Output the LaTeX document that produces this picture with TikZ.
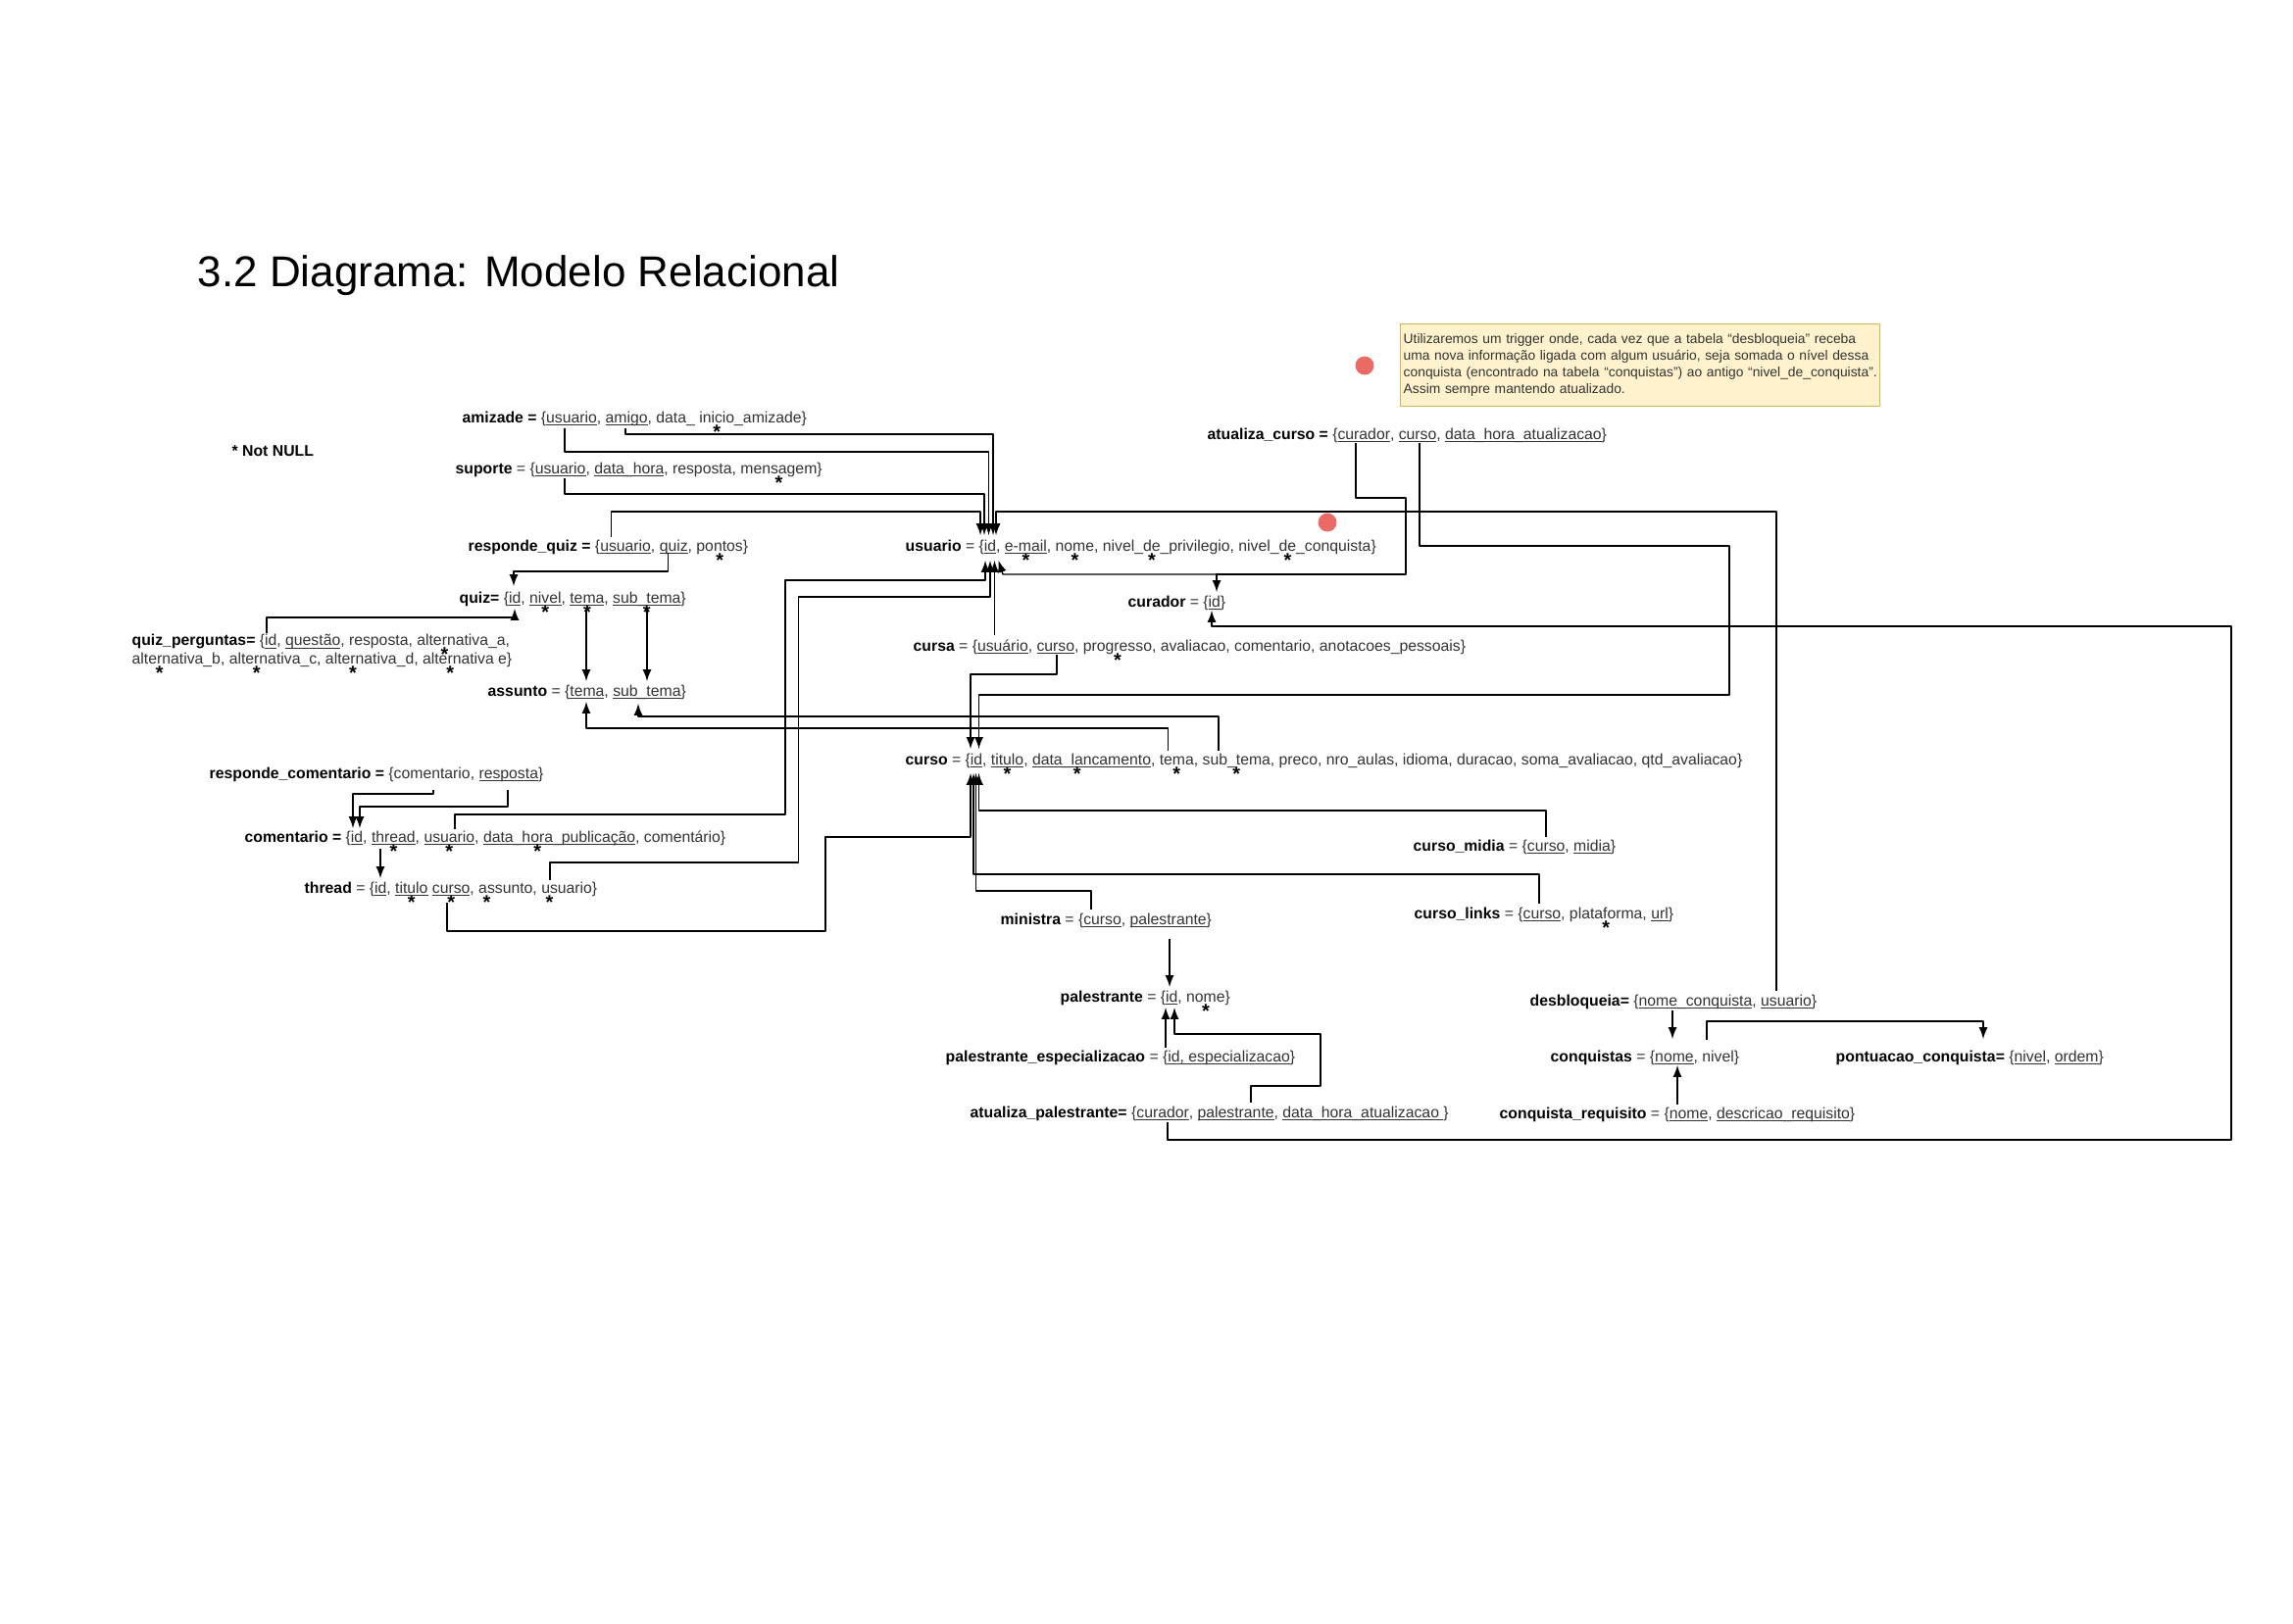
\documentclass[tikz,border=0pt]{standalone}
\usepackage{fontspec}
\setmainfont{Liberation Sans}
\definecolor{campo}{HTML}{333333}
\definecolor{notafundo}{HTML}{FFF2CC}
\definecolor{notaborda}{HTML}{D6B656}
\definecolor{vermelho}{HTML}{EA6B66}
\newcommand\nome[1]{{\bfseries\color{black}#1}}
\newcommand\pk[1]{\setbox0\hbox{#1}\rlap{\rule[-1.2pt]{\wd0}{0.35pt}}\box0\relax}
\newcommand\nn[1]{\setbox0\hbox{#1}\rlap{\hbox to\wd0{\hss\raisebox{-5.8pt}[0pt][0pt]{\fontsize{7.2}{8}\selectfont\bfseries\color{black}*}\hss}}\box0\relax}
\tikzset{
  tabela/.style={anchor=base west,inner sep=0pt,text=campo,font=\fontsize{5.7}{6.8}\selectfont},
  nota/.style={anchor=north west,fill=notafundo,draw=notaborda,line width=0.4pt,inner xsep=0.4mm,inner ysep=1.3mm,text width=61.3mm,align=left,text=campo,font=\fontsize{5}{6.1}\selectfont},
  ponto/.style={circle,fill=vermelho,draw=none,minimum size=2.4mm,inner sep=0pt},
}
\begin{document}
\begin{tikzpicture}[x=0.127mm,y=-0.127mm,>=latex,line join=bevel,line width=0.5pt]
\useasboundingbox (0,0) rectangle (2339,1656);
%%
\node (node_titulo) at (201,292) [anchor=base west,inner sep=0pt,font=\fontsize{15.9}{19}\selectfont] {3.2 Diagrama: Modelo Relacional};
  \node (node_notnull) at (236,465) [tabela,text=black] {\bfseries * Not NULL};
  \node (node_nota) at (1428,330) [nota] {\mbox{Utilizaremos um trigger onde, cada vez que a tabela “desbloqueia” receba}\\
    \mbox{uma nova informação ligada com algum usuário, seja somada o nível dessa}\\
    \mbox{conquista (encontrado na tabela “conquistas”) ao antigo “nivel\_de\_conquista”.}\\
    \mbox{Assim sempre mantendo atualizado.}};
  \node (node_ponto_1) at (1392,373) [ponto] {};
  \node (node_ponto_2) at (1354,533) [ponto] {};
%
  \node (node_amizade) at (471,431) [tabela] {\nome{amizade =} \{\pk{usuario}, \pk{amigo}, data\_ \nn{inicio}\_amizade\}};
  \node (node_suporte) at (464,483) [tabela] {\nome{suporte} = \{\pk{usuario}, \pk{data\_hora}, resposta, \nn{mensagem}\}};
  \node (node_responde_quiz) at (477,562) [tabela] {\nome{responde\_quiz =} \{\pk{usuario}, \pk{quiz}, \nn{pontos}\}};
  \node (node_quiz) at (468,615) [tabela] {\nome{quiz=} \{\pk{id}, \nn{\pk{nivel}}, \nn{\pk{tema}}, \nn{\pk{sub\_tema}}\}};
  \node (node_quiz_perguntas) at (134,677) [tabela,align=left] {\nome{quiz\_perguntas=} \{\pk{id}, \pk{questão}, resposta, \nn{alternati}va\_a,\\\nn{alternati}va\_b, \nn{alternati}va\_c, \nn{alternati}va\_d, \nn{alternati}va e\}};
  \node (node_assunto) at (497,710) [tabela] {\nome{assunto} = \{\pk{tema}, \pk{sub\_tema}\}};
  \node (node_responde_comentario) at (213,794) [tabela] {\nome{responde\_comentario =} \{comentario, \pk{resposta}\}};
  \node (node_comentario) at (249,859) [tabela] {\nome{comentario =} \{\pk{id}, \nn{\pk{thread}}, \nn{\pk{usuario}}, \pk{data\_\nn{hora}\_publicação}, comentário\}};
  \node (node_thread) at (310,911) [tabela] {\nome{thread} = \{\pk{id}, \nn{\pk{titulo}} \nn{\pk{curso}}, \nn{as}sunto, \nn{us}uario\}};
  \node (node_usuario) at (923,562) [tabela] {\nome{usuario} = \{\pk{id}, \nn{\pk{e-mail}}, \nn{nome}, nivel\_\nn{de}\_privilegio, nivel\_\nn{de}\_conquista\}};
  \node (node_curador) at (1150,619) [tabela] {\nome{curador} = \{\pk{id}\}};
  \node (node_cursa) at (931,664) [tabela] {\nome{cursa} = \{\pk{usuário}, \pk{curso}, \nn{progresso}, avaliacao, comentario, anotacoes\_pessoais\}};
  \node (node_atualiza_curso) at (1231,448) [tabela] {\nome{atualiza\_curso =} \{\pk{curador}, \pk{curso}, \pk{data\_hora\_atualizacao}\}};
  \node (node_curso) at (923,780) [tabela] {\nome{curso} = \{\pk{id}, \nn{\pk{titulo}}, \pk{data\_\nn{la}ncamento}, \nn{tema}, \nn{sub\_tema}, preco, nro\_aulas, idioma, duracao, soma\_avaliacao, qtd\_avaliacao\}};
  \node (node_curso_midia) at (1441,868) [tabela] {\nome{curso\_midia} = \{\pk{curso}, \pk{midia}\}};
  \node (node_curso_links) at (1442,937) [tabela] {\nome{curso\_links} = \{\pk{curso}, \nn{plataforma}, \pk{url}\}};
  \node (node_ministra) at (1020,943) [tabela] {\nome{ministra} = \{\pk{curso}, \pk{palestrante}\}};
  \node (node_palestrante) at (1081,1022) [tabela] {\nome{palestrante} = \{\pk{id}, \nn{nome}\}};
  \node (node_palestrante_especializacao) at (964,1083) [tabela] {\nome{palestrante\_especializacao} = \{\pk{id, especializacao}\}};
  \node (node_atualiza_palestrante) at (989,1140) [tabela] {\nome{atualiza\_palestrante=} \{\pk{curador}, \pk{palestrante}, \pk{data\_hora\_atualizacao }\}};
  \node (node_desbloqueia) at (1560,1026) [tabela] {\nome{desbloqueia=} \{\pk{nome\_conquista}, \pk{usuario}\}};
  \node (node_conquistas) at (1581,1083) [tabela] {\nome{conquistas} = \{\pk{nome}, nivel\}};
  \node (node_pontuacao_conquista) at (1872,1083) [tabela] {\nome{pontuacao\_conquista=} \{\pk{nivel}, \pk{ordem}\}};
  \node (node_conquista_requisito) at (1529,1141) [tabela] {\nome{conquista\_requisito} = \{\pk{nome}, \pk{descricao\_requisito}\}};
%
  \coordinate (c_amizade_usuario) at (576,437);
  \coordinate (c_amizade_amigo) at (638,437);
  \coordinate (c_suporte_usuario) at (576,488);
  \coordinate (c_rquiz_usuario) at (623.5,548);
  \coordinate (c_rquiz_quiz) at (681.5,564);
  \coordinate (c_quiz_tema) at (598,622);
  \coordinate (c_quiz_subtema) at (660,622);
  \coordinate (c_qperg_id) at (272,646);
  \coordinate (c_rcom_comentario) at (442,806);
  \coordinate (c_rcom_resposta) at (518,806);
  \coordinate (c_comentario_thread) at (388,866);
  \coordinate (c_comentario_usuario) at (464,846);
  \coordinate (c_thread_usuario) at (561,898);
  \coordinate (c_thread_curso) at (456,921);
  \coordinate (c_cursa_usuario) at (1014.5,648);
  \coordinate (c_cursa_curso) at (1078,668);
  \coordinate (c_atcurso_curador) at (1383,452);
  \coordinate (c_atcurso_curso) at (1448,452);
  \coordinate (c_curador_juncao) at (1241,586);
  \coordinate (c_curso_tema) at (1191.5,766);
  \coordinate (c_curso_subtema) at (1243,766);
  \coordinate (c_midia_curso) at (1577,854);
  \coordinate (c_links_curso) at (1570,922);
  \coordinate (c_ministra_curso) at (1113,928);
  \coordinate (c_ministra_palestrante) at (1193,958);
  \coordinate (c_pesp_id) at (1189,1069);
  \coordinate (c_atpal_curador) at (1191,1145);
  \coordinate (c_atpal_palestrante) at (1276,1125);
  \coordinate (c_desbl_nome) at (1706,1031);
  \coordinate (c_desbl_usuario) at (1812,1011);
  \coordinate (c_conq_nivel) at (1741,1061);
  \coordinate (c_requisito_nome) at (1711,1127);
%
  \coordinate (p_usuario_t1) at (1000,546);
  \coordinate (p_usuario_t2) at (1004,546);
  \coordinate (p_usuario_t3) at (1008.5,546);
  \coordinate (p_usuario_t4) at (1013,546);
  \coordinate (p_usuario_t5) at (1016,546);
  \coordinate (p_usuario_b1) at (1005,572);
  \coordinate (p_usuario_b2) at (1010,572);
  \coordinate (p_usuario_b3) at (1014.5,572);
  \coordinate (p_usuario_b4) at (1018.5,572);
  \coordinate (p_curador_t) at (1241,604);
  \coordinate (p_curador_b) at (1236,623);
  \coordinate (p_quiz_t) at (524,598);
  \coordinate (p_quiz_b) at (525,621);
  \coordinate (p_assunto_t1) at (598,695);
  \coordinate (p_assunto_t2) at (660,695);
  \coordinate (p_assunto_b1) at (598,716);
  \coordinate (p_assunto_b2) at (651,718);
  \coordinate (p_comentario_t1) at (360,845);
  \coordinate (p_comentario_t2) at (367,845);
  \coordinate (p_thread_t) at (388,896);
  \coordinate (p_curso_t1) at (990,764);
  \coordinate (p_curso_t2) at (998.5,764);
  \coordinate (p_curso_b1) at (990,789);
  \coordinate (p_curso_b2) at (993,789);
  \coordinate (p_curso_b3) at (995.5,789);
  \coordinate (p_curso_b4) at (998.5,789);
  \coordinate (p_palestrante_t) at (1193,1007);
  \coordinate (p_palestrante_b1) at (1189,1028);
  \coordinate (p_palestrante_b2) at (1198,1028);
  \coordinate (p_conquistas_t) at (1706,1060);
  \coordinate (p_conquistas_b) at (1711,1087);
  \coordinate (p_pontuacao_t) at (2023,1060);
%
  \draw [black,->] (c_amizade_amigo) |- (1013,443) -- (p_usuario_t4);
  \draw [black,->] (c_amizade_usuario) |- (1008.5,461) -- (p_usuario_t3);
  \draw [black,->] (c_suporte_usuario) |- (1004,504) -- (p_usuario_t2);
  \draw [black,->] (c_rquiz_usuario) |- (1000,522) -- (p_usuario_t1);
  \draw [black,->] (c_desbl_usuario) |- (1016,522) -- (p_usuario_t5);
  \draw [black,->] (c_comentario_usuario) |- (801,831) |- (1005,592) -- (p_usuario_b1);
  \draw [black,->] (c_thread_usuario) |- (814.5,880) |- (1010,609) -- (p_usuario_b2);
  \draw [black,->] (c_cursa_usuario) -- (p_usuario_b3);
  \draw [black,->] (c_atcurso_curador) |- (1434,508) |- (c_curador_juncao) -- (p_curador_t);
  \draw [black,->] (c_curador_juncao) -- (1023,586) -- (p_usuario_b4);
  \draw [black,->] (c_atpal_curador) |- (2276,1163) |- (1236,639) -- (p_curador_b);
%
  \draw [black,->] (c_rquiz_quiz) |- (524,583) -- (p_quiz_t);
  \draw [black,->] (c_qperg_id) |- (525,630) -- (p_quiz_b);
  \draw [black,->] (c_quiz_tema) -- (p_assunto_t1);
  \draw [black,->] (c_quiz_subtema) -- (p_assunto_t2);
  \draw [black,->] (c_curso_tema) |- (598,743) -- (p_assunto_b1);
  \draw [black,->] (c_curso_subtema) |- (651,731) -- (p_assunto_b2);
%
  \draw [black,->] (c_rcom_comentario) |- (360,810) -- (p_comentario_t1);
  \draw [black,->] (c_rcom_resposta) |- (367,823) -- (p_comentario_t2);
  \draw [black,->] (c_comentario_thread) -- (p_thread_t);
%
  \draw [black,->] (c_cursa_curso) |- (990,688) -- (p_curso_t1);
  \draw [black,->] (c_atcurso_curso) |- (1764,557) |- (998.5,709) -- (p_curso_t2);
  \draw [black,->] (c_thread_curso) |- (842,950) |- (990,854) -- (p_curso_b1);
  \draw [black,->] (c_links_curso) |- (993,892) -- (p_curso_b2);
  \draw [black,->] (c_ministra_curso) |- (995.5,909) -- (p_curso_b3);
  \draw [black,->] (c_midia_curso) |- (998.5,827) -- (p_curso_b4);
%
  \draw [black,->] (c_ministra_palestrante) -- (p_palestrante_t);
  \draw [black,->] (c_pesp_id) -- (p_palestrante_b1);
  \draw [black,->] (c_atpal_palestrante) |- (1347,1108) |- (1198,1055) -- (p_palestrante_b2);
%
  \draw [black,->] (c_desbl_nome) -- (p_conquistas_t);
  \draw [black,->] (c_conq_nivel) |- (2023,1042) -- (p_pontuacao_t);
  \draw [black,->] (c_requisito_nome) -- (p_conquistas_b);
%
\end{tikzpicture}
\end{document}
